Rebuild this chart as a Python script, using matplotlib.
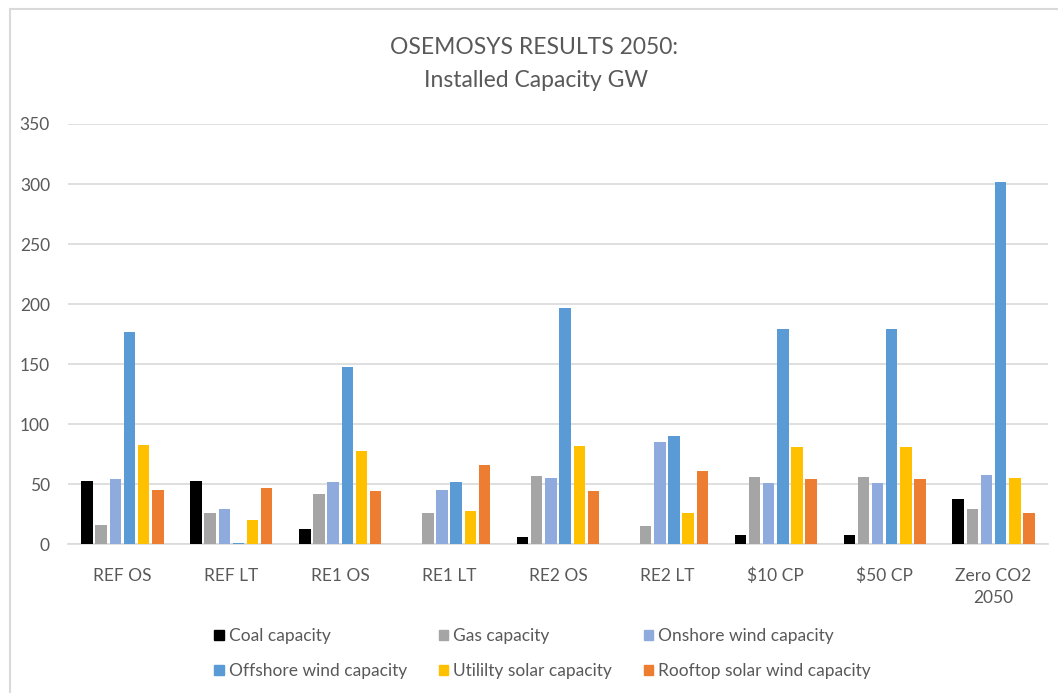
import numpy as np
import matplotlib
matplotlib.use("Agg")
import matplotlib.pyplot as plt
from matplotlib.patches import Rectangle, Patch

scenarios = ["REF OS", "REF LT", "RE1 OS", "RE1 LT", "RE2 OS", "RE2 LT",
             "$10 CP", "$50 CP", "Zero CO2\n2050"]
series = ["Coal capacity", "Gas capacity", "Onshore wind capacity",
          "Offshore wind capacity", "Utililty solar capacity",
          "Rooftop solar wind capacity"]
coal = [53, 53, 13, 0, 6, 0, 8, 8, 38]
gas = [16, 26, 42, 26, 57, 15, 56, 56, 29]
onshore = [54, 29, 52, 45, 55, 85, 51, 51, 58]
offshore = [177, 1, 148, 52, 197, 90, 179, 179, 302]
utility = [83, 20, 78, 28, 82, 26, 81, 81, 55]
rooftop = [45, 47, 44, 66, 44, 61, 54, 54, 26]
colors = ["#000000", "#A5A5A5", "#8FAADC", "#5B9BD5", "#FFC000", "#ED7D31"]

plt.rcParams['font.family'] = ['Lato', 'DejaVu Sans']
txt = "#595959"

fig = plt.figure(figsize=(10.58, 6.93), dpi=100)
# chart area frame (runs off the right and bottom edges)
fig.patches.append(Rectangle((10 / 1058, -0.05), 1.2, (0.05 + 684 / 693),
                             transform=fig.transFigure, fill=False,
                             edgecolor="#D9D9D9", linewidth=1.5))

ax = fig.add_axes([68 / 1058, (693 - 544.3) / 693, 980 / 1058, 420.3 / 693])
x = np.arange(len(scenarios))
slot = 0.13
bw = 0.105
data = [coal, gas, onshore, offshore, utility, rooftop]
for i, (vals, c, name) in enumerate(zip(data, colors, series)):
    ax.bar(x + (i - 2.5) * slot, vals, width=bw, color=c, label=name, zorder=3)

ax.set_xlim(-0.5, len(scenarios) - 0.5)
ax.set_ylim(0, 350)
ax.set_yticks(range(0, 351, 50))
ax.set_xticks(x)
ax.set_xticklabels(scenarios, linespacing=1.45)
ax.grid(axis="y", color="#D9D9D9", linewidth=1.2, zorder=0)
for s in ["top", "right", "left"]:
    ax.spines[s].set_visible(False)
ax.spines["bottom"].set_color("#D9D9D9")
ax.spines["bottom"].set_linewidth(1.2)
ax.tick_params(axis="both", length=0, labelsize=12.5, colors=txt)
ax.tick_params(axis="x", pad=17)
ax.tick_params(axis="y", pad=13)

fig.text(0.505, 0.932, "OSEMOSYS RESULTS 2050:", ha="center", va="center",
         fontsize=16.5, color=txt)
fig.text(0.507, 0.884, "Installed Capacity GW", ha="center", va="center",
         fontsize=16.5, color=txt)

handles = [Patch(color=c) for c in colors]
order = [0, 3, 1, 4, 2, 5]
fig.legend([handles[i] for i in order], [series[i] for i in order],
           ncol=3, loc="center", bbox_to_anchor=(0.513, 0.057),
           frameon=False, fontsize=12.5, labelcolor=txt,
           handlelength=0.55, handleheight=0.55, handletextpad=0.3,
           columnspacing=1.8, labelspacing=1.1)

fig.savefig("out.png", dpi=100)
